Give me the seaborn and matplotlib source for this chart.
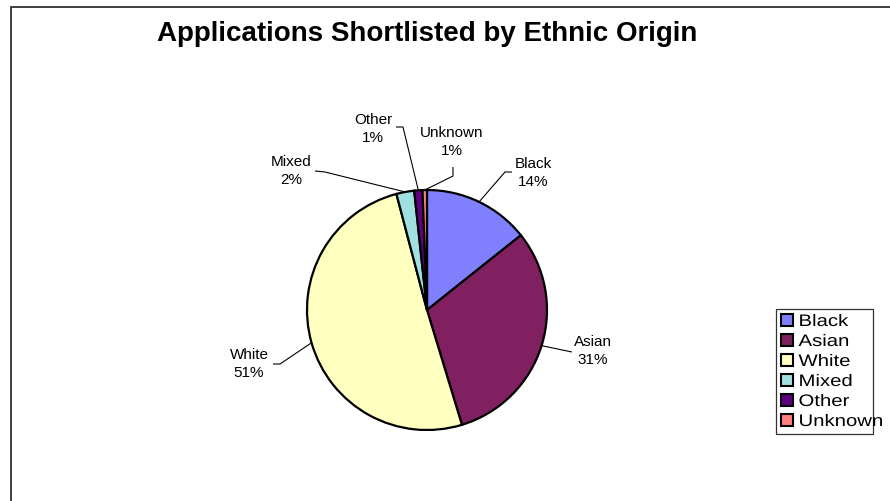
import matplotlib
matplotlib.use("Agg")
import matplotlib.pyplot as plt
import seaborn as sns
import numpy as np
from matplotlib.patches import Patch
from matplotlib.patheffects import AbstractPathEffect
from matplotlib.transforms import Affine2D

# Shortlisted applications by ethnic origin (percent of total)
categories = ["Black", "Asian", "White", "Mixed", "Other", "Unknown"]
shares = [14.3, 31.0, 50.6, 2.4, 1.1, 0.6]
colors = ["#8080ff", "#802060", "#ffffc0", "#a0e0e0", "#600080", "#ff8080"]
title = "Applications Shortlisted by Ethnic Origin"

sns.set_style("white")
plt.rcParams["font.family"] = ["Liberation Sans", "DejaVu Sans"]
plt.rcParams["text.color"] = "black"

W, H = 890, 502
fig = plt.figure(figsize=(W / 100, H / 100), dpi=100)
ax = fig.add_axes([0, 0, 1, 1])


def Y(py):
    """Convert a top-down pixel row to axis y."""
    return H - py


class HStretch(AbstractPathEffect):
    """Widen glyphs horizontally around the text origin."""

    def __init__(self, sx):
        super().__init__()
        self.sx = sx

    def draw_path(self, renderer, gc, tpath, affine, rgbFace=None):
        renderer.draw_path(gc, tpath, Affine2D().scale(self.sx, 1) + affine, rgbFace)


cx, cy, r = 427, Y(311), 120
wedges, _ = ax.pie(
    shares,
    colors=colors,
    startangle=90,
    counterclock=False,
    center=(cx, cy),
    radius=r,
    wedgeprops=dict(edgecolor="black", linewidth=1.6),
)

ax.set_xlim(0, W)
ax.set_ylim(0, H)
ax.set_aspect("equal")
ax.axis("off")

# label placement: text centre, then leader-line bend points (pixels, top-down)
label_pos = {
    "Black": ((533, 173), [(505, 173), (512, 173)]),
    "Asian": ((593, 351), [(572, 353)]),
    "White": ((249, 364), [(280, 365), (273, 365)]),
    "Mixed": ((291, 171), [(325, 173), (315, 172)]),
    "Other": ((373, 129), [(403, 128), (396, 128)]),
    "Unknown": ((452, 142), [(453, 177), (453, 168)]),
}

for w, cat, val in zip(wedges, categories, shares):
    (tx, ty), bends = label_pos[cat]
    mid = np.deg2rad((w.theta1 + w.theta2) / 2)
    sx, sy = cx + r * np.cos(mid), cy + r * np.sin(mid)
    xs = [sx] + [b[0] for b in bends]
    ys = [sy] + [Y(b[1]) for b in bends]
    ax.plot(xs, ys, color="black", lw=0.8, solid_capstyle="butt", zorder=1)
    ax.text(tx, Y(ty), f"{cat}\n{round(val)}%", ha="center", va="center",
            fontsize=11, linespacing=1.3, color="black")

# chart border (runs off the right and bottom edges)
ax.plot([11, 11, W + 10], [-10, Y(8), Y(8)], color="#303030", lw=1.3,
        solid_joinstyle="miter", clip_on=False)

fig.text(427 / W, 1 - 34 / H, title, ha="center", va="center",
         fontsize=20, fontweight="bold", color="black")

handles = [Patch(facecolor=c, edgecolor="black", linewidth=1.5) for c in colors]
leg = ax.legend(
    handles, categories,
    loc="upper left",
    bbox_to_anchor=(776, Y(310)),
    bbox_transform=ax.transData,
    borderaxespad=0,
    frameon=True,
    fancybox=False,
    edgecolor="black",
    fontsize=12,
    handlelength=0.75,
    handleheight=0.75,
    handletextpad=0.3,
    labelspacing=0.3,
    borderpad=0.3,
)
leg.get_frame().set_linewidth(0.9)
for t in leg.get_texts():
    t.set_path_effects([HStretch(1.22)])

fig.savefig("out.png", dpi=100)
